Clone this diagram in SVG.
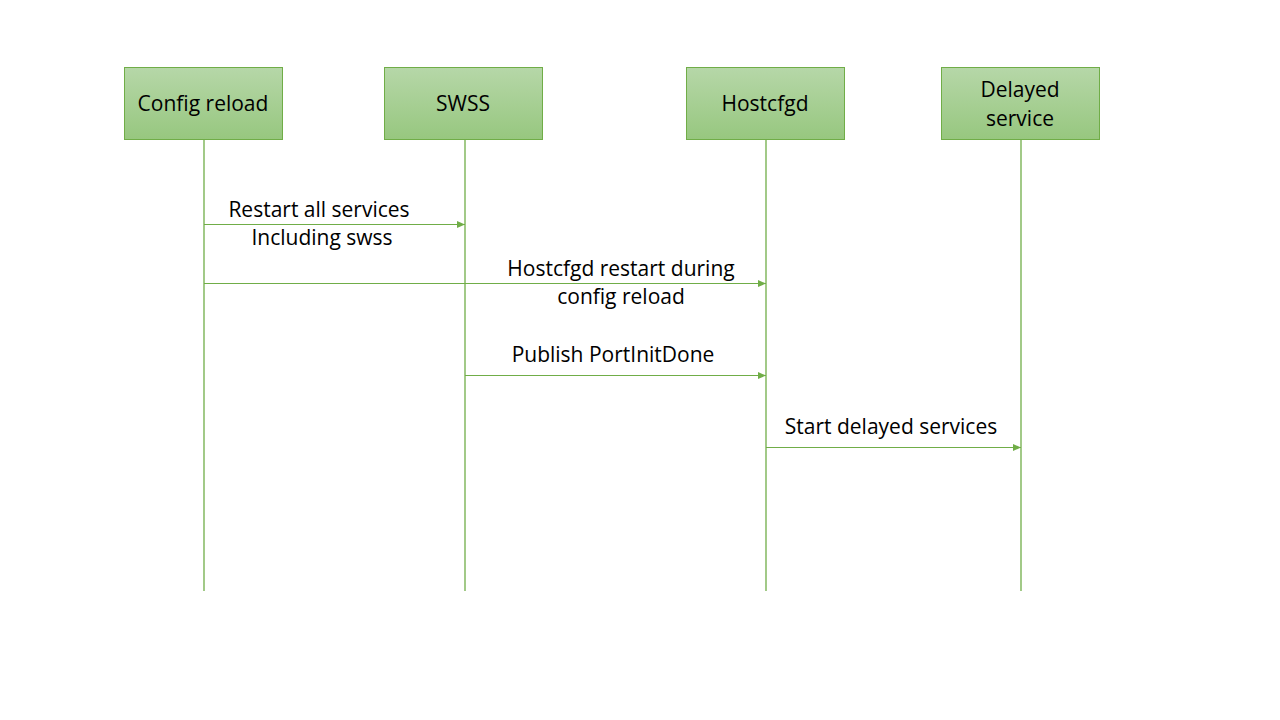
<svg xmlns="http://www.w3.org/2000/svg" width="1280" height="720" viewBox="0 0 1280 720">
<defs>
<linearGradient id="g" x1="0" y1="0" x2="0" y2="1">
<stop offset="0" stop-color="#b6d7a8"/>
<stop offset="1" stop-color="#97c77f"/>
</linearGradient>
<marker id="ah" markerWidth="8" markerHeight="8" refX="8" refY="4" orient="auto" markerUnits="userSpaceOnUse">
<path d="M0,0.5 L8,4 L0,7.5 Z" fill="#70ad47"/>
</marker>
<style>
.box{fill:url(#g);stroke:#70ad47;stroke-width:1}
.life{stroke:#70ad47;stroke-width:1.3;fill:none}
.msg{stroke:#70ad47;stroke-width:1.2;fill:none;marker-end:url(#ah)}
text{font-family:"Open Sans","Liberation Sans",sans-serif;font-size:21px;fill:#000;text-anchor:middle}
</style>
</defs>
<rect width="1280" height="720" fill="#fff"/>
<g id="lifelines">
<line class="life" x1="204" y1="140" x2="204" y2="591"/>
<line class="life" x1="465" y1="140" x2="465" y2="591"/>
<line class="life" x1="766" y1="140" x2="766" y2="591"/>
<line class="life" x1="1021" y1="140" x2="1021" y2="591"/>
</g>
<g id="node-config-reload">
<rect class="box" x="124.5" y="67.5" width="158" height="72"/>
<text x="203" y="111">Config reload</text>
</g>
<g id="node-swss">
<rect class="box" x="384.5" y="67.5" width="158" height="72"/>
<text x="463" y="111">SWSS</text>
</g>
<g id="node-hostcfgd">
<rect class="box" x="686.5" y="67.5" width="158" height="72"/>
<text x="765" y="111">Hostcfgd</text>
</g>
<g id="node-delayed-service">
<rect class="box" x="941.5" y="67.5" width="158" height="72"/>
<text x="1020" y="97">Delayed</text>
<text x="1020" y="126">service</text>
</g>
<g id="connectors">
<line class="msg" x1="204" y1="224.5" x2="465" y2="224.5"/>
<line class="msg" x1="204" y1="283.5" x2="766" y2="283.5"/>
<line class="msg" x1="465" y1="375.5" x2="766" y2="375.5"/>
<line class="msg" x1="766" y1="447.5" x2="1021" y2="447.5"/>
<text x="319" y="217">Restart all services</text>
<text x="322" y="245">Including swss</text>
<text x="621" y="276">Hostcfgd restart during</text>
<text x="621" y="304">config reload</text>
<text x="613" y="362">Publish PortInitDone</text>
<text x="891" y="434">Start delayed services</text>
</g>
</svg>
